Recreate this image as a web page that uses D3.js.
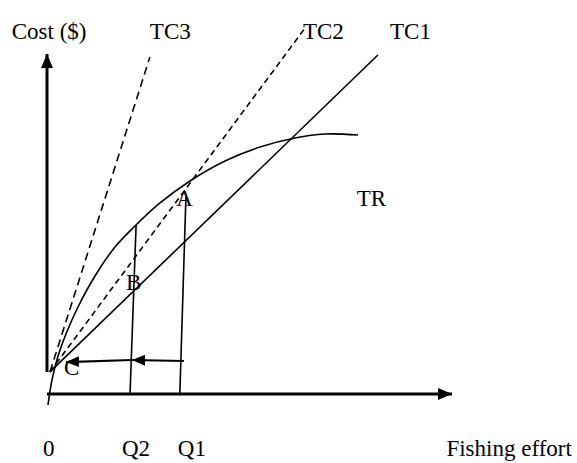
<!DOCTYPE html>
<html>
<head>
<meta charset="utf-8">
<script src="https://cdn.jsdelivr.net/npm/d3@7"></script>
<style>
  body { margin: 0; background: #fff; }
  text { font-family: "Liberation Serif", "Times New Roman", serif; font-size: 23px; fill: #000; }
</style>
</head>
<body>
<svg id="chart" width="577" height="463"></svg>
<script>
const WIDTH = 577;
const HEIGHT = 463;

// fishing effort (x) and total revenue (y), in arbitrary units
const trEffort = [0.25, 1.23, 2.72, 4.69, 7.65, 11.85, 16.79, 21.73, 27.9, 35.31, 43.95, 52.59, 61.23, 68.64, 76.79];
const trRevenue = [-3.24, 4.12, 11.18, 17.65, 25.59, 34.71, 43.24, 49.41, 56.18, 62.65, 68.53, 72.65, 75.29, 76.47, 76.18];

// total cost lines: start and end
const tcNames = ["TC1", "TC2", "TC3"];
const tcStart = [[0.74, 6.5], [0.74, 6.5], [0.74, 6.5]];
const tcEnd = [[81.7, 99.7], [63.7, 107.6], [25.4, 99.1]];

// effort levels Q2, Q1 (bottom, top)
const qLines = [
  [[20.5, 0], [22.0, 49.7]],
  [[32.8, 0], [34.3, 57.9]]
];

// effort-reduction arrows
const arrows = [
  [[33.8, 9.7], [21.0, 10.0]],
  [[21.0, 10.0], [4.7, 9.4]]
];

const labels = [
  { t: "Cost ($)", x: -8.7, y: 104.4 },
  { t: "TC3", x: 25.4, y: 104.4 },
  { t: "TC2", x: 63.2, y: 104.4 },
  { t: "TC1", x: 84.7, y: 104.4 },
  { t: "A", x: 31.9, y: 55.3 },
  { t: "TR", x: 76.5, y: 55.3 },
  { t: "B", x: 19.5, y: 30.6 },
  { t: "C", x: 4.2, y: 5.6 },
  { t: "0", x: -1.0, y: -18.2 },
  { t: "Q2", x: 18.5, y: -18.2 },
  { t: "Q1", x: 32.3, y: -18.2 },
  { t: "Fishing effort", x: 129.6, y: -18.2 }
];

const svg = d3.select("#chart");

const x = d3.scaleLinear().domain([0, 100]).range([47, 452]);
const y = d3.scaleLinear().domain([0, 100]).range([394, 54]);

// arrow head markers
const defs = svg.append("defs");
defs.append("marker")
  .attr("id", "axisHead")
  .attr("markerUnits", "userSpaceOnUse")
  .attr("viewBox", "0 0 14 12")
  .attr("refX", 14).attr("refY", 6)
  .attr("markerWidth", 14).attr("markerHeight", 12)
  .attr("orient", "auto")
  .append("path").attr("d", "M0,0 L14,6 L0,12 Z").attr("fill", "#000");
defs.append("marker")
  .attr("id", "smallHead")
  .attr("markerUnits", "userSpaceOnUse")
  .attr("viewBox", "0 0 13 11")
  .attr("refX", 13).attr("refY", 5.5)
  .attr("markerWidth", 13).attr("markerHeight", 11)
  .attr("orient", "auto")
  .append("path").attr("d", "M0,0 L13,5.5 L0,11 Z").attr("fill", "#000");

const line = d3.line().x(d => x(d[0])).y(d => y(d[1]));

// axes
svg.append("path")
  .attr("d", line([[0, 6.5], [0, 100]]))
  .attr("stroke", "#000").attr("stroke-width", 3).attr("fill", "none")
  .attr("marker-end", "url(#axisHead)");
svg.append("path")
  .attr("d", line([[0, 0], [100, 0]]))
  .attr("stroke", "#000").attr("stroke-width", 3).attr("fill", "none")
  .attr("marker-end", "url(#axisHead)");

// TC lines
const dashes = { TC1: null, TC2: "6,4", TC3: "8,5" };
svg.selectAll("path.tc")
  .data(tcNames)
  .join("path")
  .attr("class", "tc")
  .attr("d", (d, i) => line([tcStart[i], tcEnd[i]]))
  .attr("stroke", "#000").attr("stroke-width", 1.6).attr("fill", "none")
  .attr("stroke-dasharray", d => dashes[d]);

// TR curve
const trPts = trEffort.map((e, i) => [e, trRevenue[i]]);
svg.append("path")
  .attr("d", d3.line().x(d => x(d[0])).y(d => y(d[1])).curve(d3.curveCatmullRom.alpha(0.5))(trPts))
  .attr("stroke", "#000").attr("stroke-width", 1.6).attr("fill", "none");

// Q lines
svg.selectAll("path.q")
  .data(qLines)
  .join("path")
  .attr("class", "q")
  .attr("d", d => line(d))
  .attr("stroke", "#000").attr("stroke-width", 1.6).attr("fill", "none");

// arrows
svg.selectAll("path.arr")
  .data(arrows)
  .join("path")
  .attr("class", "arr")
  .attr("d", d => line(d))
  .attr("stroke", "#000").attr("stroke-width", 2.2).attr("fill", "none")
  .attr("marker-end", "url(#smallHead)");

// labels
svg.selectAll("text.lbl")
  .data(labels)
  .join("text")
  .attr("class", "lbl")
  .attr("x", d => x(d.x))
  .attr("y", d => y(d.y))
  .attr("text-anchor", d => d.t === "Fishing effort" ? "end" : "start")
  .text(d => d.t);
</script>
</body>
</html>
